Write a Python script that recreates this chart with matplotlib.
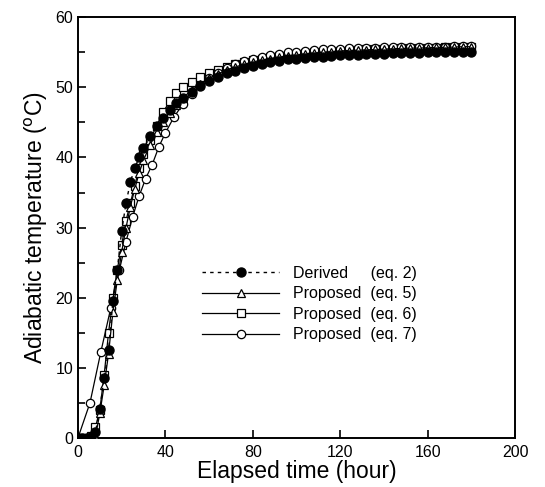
import matplotlib
matplotlib.use("Agg")
import matplotlib.pyplot as plt
from matplotlib.ticker import MultipleLocator

plt.rcParams['font.family'] = ['Liberation Sans', 'DejaVu Sans']

# Elapsed time grid (hours) shared by eq. 2, 5 and 6
hours = [0, 2, 4, 6, 8, 10, 12, 14, 16, 18, 20, 22, 24, 26, 28, 30, 33, 36, 39,
         42, 45, 48, 52, 56, 60, 64, 68, 72, 76, 80, 84, 88, 92, 96, 100, 104,
         108, 112, 116, 120, 124, 128, 132, 136, 140, 144, 148, 152, 156, 160,
         164, 168, 172, 176, 180]

derived_eq2 = [0, 0, 0, 0.2, 0.8, 4.2, 8.5, 12.5, 19.5, 24, 29.5, 33.5, 36.5,
               38.5, 40.0, 41.3, 43.0, 44.5, 45.7, 46.8, 47.7, 48.5, 49.4, 50.2,
               50.9, 51.5, 52.0, 52.4, 52.8, 53.1, 53.4, 53.6, 53.8, 54.0, 54.1,
               54.2, 54.3, 54.4, 54.5, 54.55, 54.6, 54.65, 54.7, 54.75, 54.8,
               54.85, 54.9, 54.9, 54.95, 55.0, 55.0, 55.05, 55.1, 55.1, 55.1]

proposed_eq5 = [0, 0, 0, 0, 0.2, 3.5, 7.5, 12, 18, 22.5, 26.5, 30, 33, 35.5,
                37.8, 39.6, 41.8, 43.6, 45.1, 46.4, 47.5, 48.5, 49.6, 50.5, 51.3,
                51.9, 52.5, 52.9, 53.3, 53.6, 53.9, 54.1, 54.3, 54.5, 54.6, 54.8,
                54.9, 55.0, 55.1, 55.2, 55.25, 55.3, 55.35, 55.4, 55.45, 55.5,
                55.55, 55.6, 55.6, 55.65, 55.7, 55.7, 55.75, 55.8, 55.8]

proposed_eq6 = [0, 0, 0, 0.3, 1.5, 4, 9, 15, 20, 24, 27.5, 31, 33.5, 36, 38.5,
                40.5, 42.5, 44.5, 46.5, 48, 49.2, 50.0, 50.8, 51.5, 52.0, 52.5,
                52.9, 53.3, 53.6, 53.9, 54.1, 54.3, 54.5, 54.6, 54.8, 54.9, 55.0,
                55.1, 55.2, 55.25, 55.3, 55.35, 55.4, 55.45, 55.5, 55.5, 55.55,
                55.6, 55.6, 55.65, 55.65, 55.7, 55.7, 55.75, 55.75]

# eq. 7 is sampled on its own grid
hours_eq7 = [0, 5.5, 10.5, 15, 19, 22, 25, 28, 31, 34, 37, 40, 44, 48, 52, 56,
             60, 64, 68, 72, 76, 80, 84, 88, 92, 96, 100, 104, 108, 112, 116,
             120, 124, 128, 132, 136, 140, 144, 148, 152, 156, 160, 164, 168,
             172, 176, 180]
proposed_eq7 = [0, 5.0, 12.3, 18.5, 24, 28, 31.5, 34.5, 37, 39, 41.5, 43.5,
                45.8, 47.6, 49.1, 50.3, 51.3, 52.1, 52.8, 53.3, 53.8, 54.1, 54.4,
                54.6, 54.8, 55.0, 55.1, 55.2, 55.3, 55.4, 55.45, 55.5, 55.55,
                55.6, 55.6, 55.65, 55.7, 55.7, 55.7, 55.75, 55.75, 55.8, 55.8,
                55.8, 55.85, 55.85, 55.85]

labels = ["Derived     (eq. 2)", "Proposed  (eq. 5)",
          "Proposed  (eq. 6)", "Proposed  (eq. 7)"]

fig = plt.figure(figsize=(5.45, 4.87), dpi=100)
ax = fig.add_axes([0.143, 0.1006, 0.802, 0.864])

ax.plot(hours, derived_eq2, linestyle=(0, (2.5, 3)), color='black', lw=1.0,
        marker='o', ms=6.5, mfc='black', mec='black', label=labels[0], zorder=5)
ax.plot(hours, proposed_eq5, '-', color='black', lw=0.9, marker='^', ms=5.5,
        mfc='white', mec='black', mew=0.9, label=labels[1], zorder=4)
ax.plot(hours, proposed_eq6, '-', color='black', lw=0.9, marker='s', ms=6,
        mfc='white', mec='black', mew=0.9, label=labels[2], zorder=3)
ax.plot(hours_eq7, proposed_eq7, '-', color='black', lw=0.9, marker='o', ms=6,
        mfc='white', mec='black', mew=0.9, label=labels[3], zorder=3)

ax.set_xlim(0, 200)
ax.set_ylim(0, 60)
ax.xaxis.set_major_locator(MultipleLocator(40))
ax.yaxis.set_major_locator(MultipleLocator(10))
ax.yaxis.set_minor_locator(MultipleLocator(5))
ax.tick_params(which='both', direction='in', labelsize=11.5, width=1.2)
ax.tick_params(which='major', length=6)
ax.tick_params(which='minor', length=5)
ax.tick_params(axis='x', pad=5)
for s in ax.spines.values():
    s.set_linewidth(1.4)

ax.set_xlabel("Elapsed time (hour)", fontsize=16.5, labelpad=0)
ax.set_ylabel("Adiabatic temperature ($^{\\rm o}$C)", fontsize=16.5, labelpad=4)

ax.legend(loc='upper left', bbox_to_anchor=(0.27, 0.425), frameon=False,
          fontsize=11.5, handlelength=4.8, labelspacing=0.35, handletextpad=0.9,
          borderaxespad=0)

fig.savefig("out.png", dpi=100)
